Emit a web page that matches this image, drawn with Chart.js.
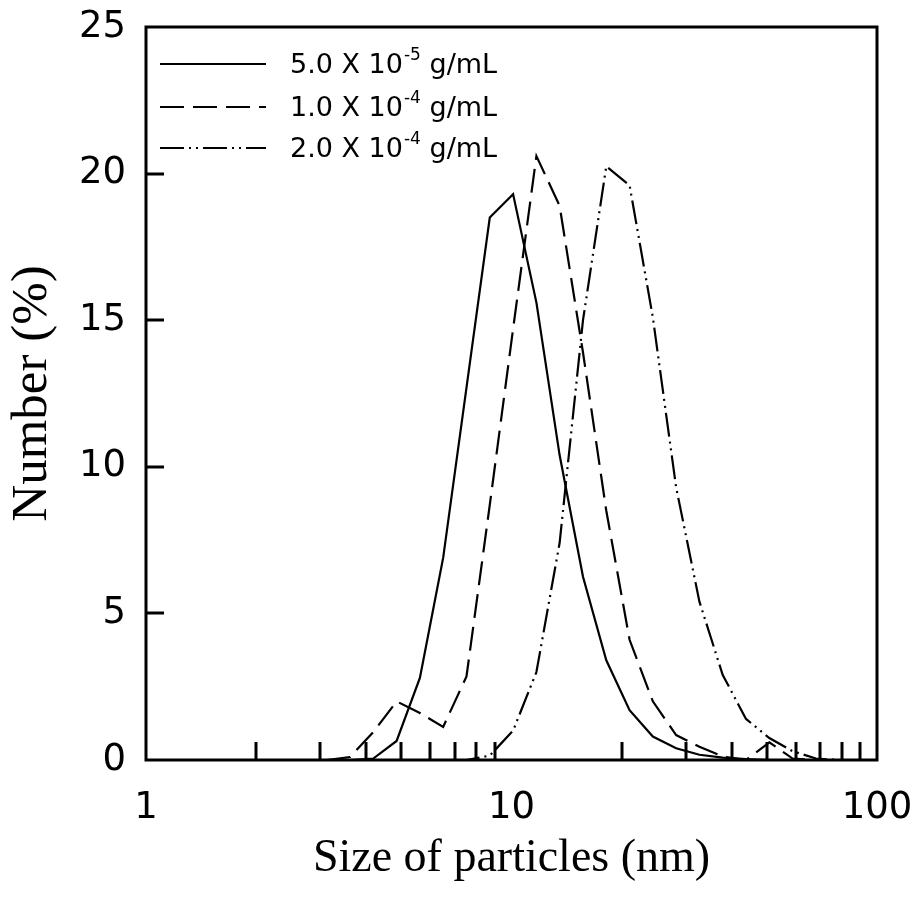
<!DOCTYPE html>
<html><head><meta charset="utf-8">
<script src="https://cdn.jsdelivr.net/npm/chart.js@4.4.1/dist/chart.umd.min.js"></script>
<style>html,body{margin:0;padding:0;background:#fff;}#wrap{width:915px;height:903px;}</style>
</head><body><div id="wrap"><canvas id="c" width="915" height="903"></canvas></div>
<script>
// Particle size bins (nm)
const sizes = [3.122, 3.615, 4.187, 4.849, 5.615, 6.503, 7.531, 8.721, 10.1, 11.7, 13.54, 15.69, 18.17, 21.04, 24.36, 28.21, 32.67, 37.84, 43.82, 50.75, 58.77, 68.06, 78.82];
// Number (%) for each concentration
const conc5e5 = [0, 0, 0.05, 0.65, 2.8, 6.9, 12.7, 18.5, 19.3, 15.6, 10.4, 6.25, 3.4, 1.7, 0.8, 0.4, 0.18, 0.08, 0.03, 0, 0, 0, 0];
const conc1e4 = [0, 0.1, 0.95, 2.0, 1.6, 1.13, 2.85, 8.7, 14.7, 20.6, 18.9, 13.9, 8.5, 4.1, 2.0, 0.85, 0.45, 0.12, 0, 0.6, 0.05, 0, 0];
const conc2e4 = [0, 0, 0, 0, 0, 0, 0, 0.15, 1.0, 3.0, 7.4, 15.0, 20.25, 19.6, 15.1, 9.3, 5.4, 2.9, 1.4, 0.75, 0.3, 0.05, 0];
// Legend text parts
const legendBases = ["5.0 X 10", "1.0 X 10", "2.0 X 10"];
const legendExps = ["-5", "-4", "-4"];
const legendUnit = " g/mL";
// Axis ticks
const xLabelTicks = [1, 10, 100];
const xMinorTicks = [2, 3, 4, 5, 6, 7, 8, 9, 20, 30, 40, 50, 60, 70, 80, 90];
const yInnerTicks = [5, 10, 15, 20];

const SANS = "'DejaVu Sans', 'Liberation Sans', sans-serif";
const SERIF = "'Liberation Serif', 'Times New Roman', serif";
const dashes = [[], [24, 9], [24, 5, 2, 5, 2, 5]];

function pts(arr){ return sizes.map((s,i)=>({x:s, y:arr[i]})); }
function noPad(s){ s.paddingTop = 0; s.paddingBottom = 0; s.paddingLeft = 0; s.paddingRight = 0; }

const frameTicks = {
  id: 'frameTicks',
  afterDatasetsDraw(chart){
    const {ctx, chartArea:a, scales:{x, y}} = chart;
    ctx.save();
    ctx.strokeStyle = '#000';
    ctx.lineWidth = 3;
    ctx.lineCap = 'butt';
    ctx.beginPath();
    xMinorTicks.forEach(v => { const px = Math.round(x.getPixelForValue(v)); ctx.moveTo(px, a.bottom); ctx.lineTo(px, a.bottom - 18); });
    yInnerTicks.forEach(v => { const py = Math.round(y.getPixelForValue(v)); ctx.moveTo(a.left, py); ctx.lineTo(a.left + 18, py); });
    ctx.stroke();
    ctx.strokeRect(a.left, a.top, a.right - a.left, a.bottom - a.top);
    // legend
    const rows = [64, 107, 148];
    chart.data.datasets.forEach((ds, i) => {
      const yy = rows[i];
      ctx.lineWidth = 2.2;
      ctx.setLineDash(ds.borderDash || []);
      ctx.beginPath(); ctx.moveTo(160, yy); ctx.lineTo(266, yy); ctx.stroke();
      ctx.setLineDash([]);
      ctx.fillStyle = '#000';
      ctx.textBaseline = 'middle';
      ctx.font = '27px ' + SANS;
      let tx = 290;
      ctx.fillText(legendBases[i], tx, yy + 2);
      tx += ctx.measureText(legendBases[i]).width + 1;
      ctx.font = '17px ' + SANS;
      ctx.fillText(legendExps[i], tx, yy - 8);
      tx += ctx.measureText(legendExps[i]).width;
      ctx.font = '27px ' + SANS;
      ctx.fillText(legendUnit, tx, yy + 2);
    });
    ctx.restore();
  }
};

new Chart(document.getElementById('c'), {
  type: 'line',
  data: {
    datasets: [
      {label: legendBases[0] + '^' + legendExps[0] + legendUnit, data: pts(conc5e5), borderColor: '#000', borderWidth: 2.2, borderDash: dashes[0], pointRadius: 0, tension: 0, fill: false},
      {label: legendBases[1] + '^' + legendExps[1] + legendUnit, data: pts(conc1e4), borderColor: '#000', borderWidth: 2.2, borderDash: dashes[1], pointRadius: 0, tension: 0, fill: false},
      {label: legendBases[2] + '^' + legendExps[2] + legendUnit, data: pts(conc2e4), borderColor: '#000', borderWidth: 2.2, borderDash: dashes[2], pointRadius: 0, tension: 0, fill: false}
    ]
  },
  options: {
    responsive: false,
    animation: false,
    devicePixelRatio: 1,
    layout: {padding: {top: 27, right: 38, left: 0, bottom: 0}},
    plugins: {legend: {display: false}, tooltip: {enabled: false}},
    scales: {
      x: {
        type: 'logarithmic', min: 1, max: 100,
        afterBuildTicks: s => { s.ticks = xLabelTicks.map(v => ({value: v})); },
        afterFit: s => { s.height = 143; noPad(s); },
        grid: {display: false, drawTicks: false},
        border: {display: false},
        ticks: {color: '#000', font: {family: SANS, size: 37}, padding: 26, maxRotation: 0, autoSkip: false, callback: v => String(v)},
        title: {display: true, text: 'Size of particles (nm)', color: '#000', font: {family: SERIF, size: 46}, padding: {bottom: 16}}
      },
      y: {
        min: 0, max: 25,
        afterFit: s => { s.width = 146; noPad(s); },
        grid: {display: false, drawTicks: false},
        border: {display: false},
        ticks: {stepSize: 5, color: '#000', font: {family: SANS, size: 37}, padding: 20},
        title: {display: true, text: 'Number (%)', color: '#000', font: {family: SERIF, size: 51}, padding: {top: 2}}
      }
    }
  },
  plugins: [frameTicks]
});
</script></body></html>
